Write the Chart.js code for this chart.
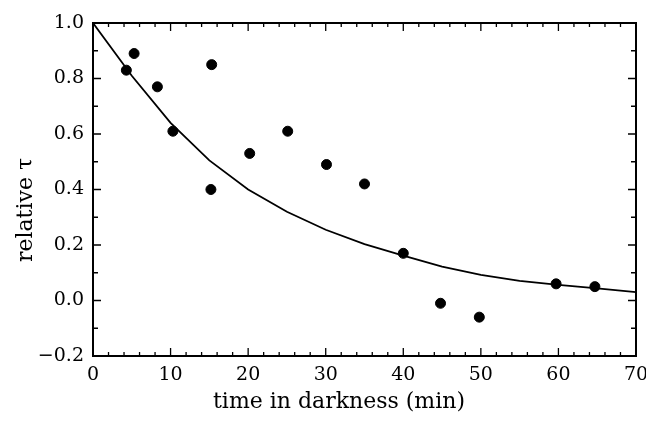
<!DOCTYPE html>
<html>
<head>
<meta charset="utf-8">
<script src="https://cdn.jsdelivr.net/npm/chart.js@4.4.0/dist/chart.umd.min.js"></script>
<style>
  body { margin: 0; background: #fff; }
</style>
</head>
<body>
<canvas id="c" width="646" height="427"></canvas>
<script>
// measured points
var timeMin = [4.3, 5.3, 8.3, 10.3, 15.2, 15.3, 20.2, 25.1, 30.1, 35.0, 40.0, 44.8, 49.8, 59.7, 64.7];
var relTau = [0.83, 0.89, 0.77, 0.61, 0.40, 0.85, 0.53, 0.61, 0.49, 0.42, 0.17, -0.01, -0.06, 0.06, 0.05];

// fitted curve, every 5 min
var fitTime = [0, 5, 10, 15, 20, 25, 30, 35, 40, 45, 50, 55, 60, 65, 70];
var fitTau = [1.0, 0.81, 0.64, 0.505, 0.40, 0.32, 0.255, 0.203, 0.162, 0.122, 0.092, 0.071, 0.056, 0.044, 0.03];

var xTicks = [0, 10, 20, 30, 40, 50, 60, 70];
var yTicks = [-0.2, 0, 0.2, 0.4, 0.6, 0.8, 1.0];

var xTitle = 'time in darkness (min)';
var yTitle = 'relative \u03c4';

var serif = "'DejaVu Serif', 'Liberation Serif', serif";

function toXY(xs, ys) {
  return xs.map(function (x, i) { return { x: x, y: ys[i] }; });
}

// frame + inward ticks on all four sides, axis titles
var frameTicks = {
  id: 'frameTicks',
  afterDraw: function (chart) {
    var ctx = chart.ctx;
    var a = chart.chartArea;
    var xs = chart.scales.x, ys = chart.scales.y;
    ctx.save();
    ctx.strokeStyle = '#000';
    ctx.lineWidth = 2;
    ctx.strokeRect(a.left, a.top, a.right - a.left, a.bottom - a.top);
    ctx.lineWidth = 1.3;
    ctx.beginPath();
    for (var v = 0; v <= 70; v += 2) {
      var px = xs.getPixelForValue(v);
      var len = (v % 10 === 0) ? 8 : 4;
      ctx.moveTo(px, a.bottom); ctx.lineTo(px, a.bottom - len);
      ctx.moveTo(px, a.top); ctx.lineTo(px, a.top + len);
    }
    for (var k = -2; k <= 10; k++) {
      var py = ys.getPixelForValue(k / 10);
      var l = (k % 2 === 0) ? 8 : 5;
      ctx.moveTo(a.left, py); ctx.lineTo(a.left + l, py);
      ctx.moveTo(a.right, py); ctx.lineTo(a.right - l, py);
    }
    ctx.stroke();

    // axis titles (sit a bit toward the origin, like the original)
    ctx.fillStyle = '#000';
    ctx.font = '22px ' + serif;
    ctx.textAlign = 'center';
    ctx.textBaseline = 'middle';
    ctx.fillText(xTitle, 339, 402);
    ctx.translate(26, 210);
    ctx.rotate(-Math.PI / 2);
    ctx.fillText(yTitle, 0, 0);
    ctx.restore();
  }
};

new Chart(document.getElementById('c'), {
  type: 'scatter',
  data: {
    datasets: [{
      data: toXY(fitTime, fitTau),
      showLine: true,
      borderColor: '#000',
      borderWidth: 1.8,
      pointRadius: 0,
      tension: 0
    }, {
      data: toXY(timeMin, relTau),
      backgroundColor: '#000',
      borderColor: '#000',
      pointRadius: 5,
      pointHoverRadius: 5
    }]
  },
  options: {
    responsive: false,
    animation: false,
    devicePixelRatio: 1,
    layout: { padding: { top: 23, right: 10, left: 0, bottom: 0 } },
    plugins: { legend: { display: false }, tooltip: { enabled: false } },
    scales: {
      x: {
        type: 'linear', min: 0, max: 70,
        afterBuildTicks: function (s) { s.ticks = xTicks.map(function (v) { return { value: v }; }); },
        ticks: { color: '#000', font: { family: serif, size: 19 }, padding: 8, maxRotation: 0 },
        grid: { display: false, drawTicks: false },
        border: { display: false },
        afterFit: function (s) { s.height = 71; s.paddingLeft = 0; s.paddingRight = 0; }
      },
      y: {
        type: 'linear', min: -0.2, max: 1.0,
        afterBuildTicks: function (s) { s.ticks = yTicks.map(function (v) { return { value: v }; }); },
        ticks: {
          color: '#000', font: { family: serif, size: 19 }, padding: 9,
          callback: function (v) { return (v < 0 ? '\u2212' : '') + Math.abs(v).toFixed(1); }
        },
        grid: { display: false, drawTicks: false },
        border: { display: false },
        afterFit: function (s) { s.width = 93; s.paddingTop = 0; s.paddingBottom = 0; }
      }
    }
  },
  plugins: [frameTicks]
});
</script>
</body>
</html>
